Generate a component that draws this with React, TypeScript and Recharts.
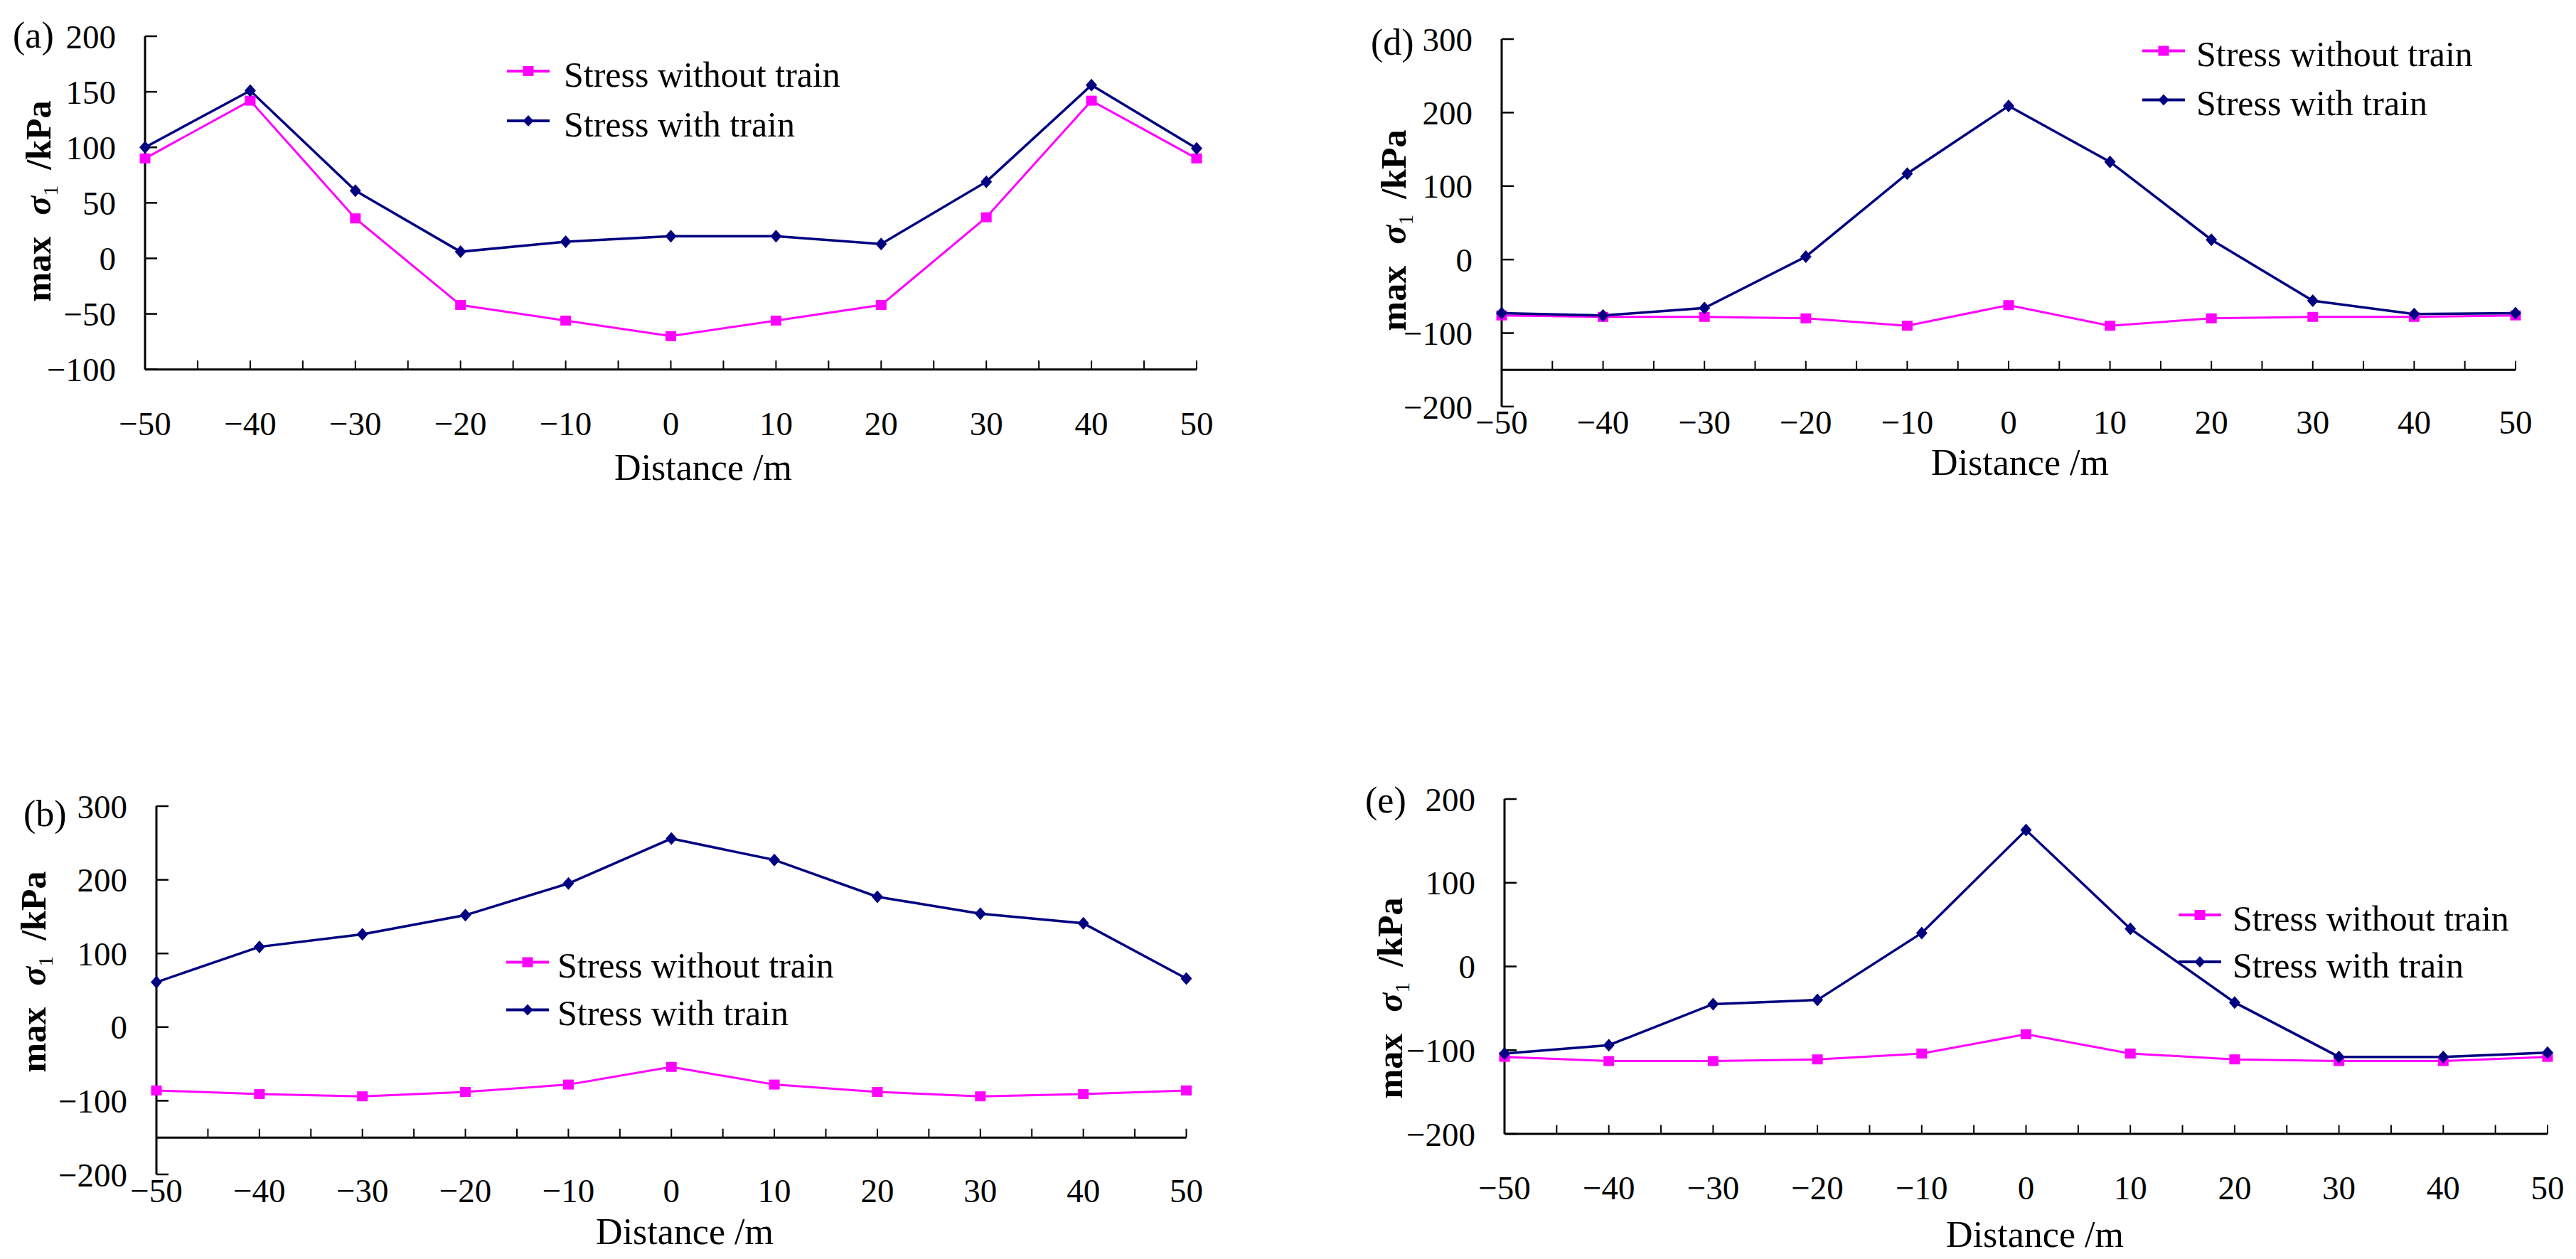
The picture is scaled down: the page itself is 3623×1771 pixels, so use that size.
import React from 'react';
import { LineChart, Line, XAxis, YAxis, Legend, ReferenceLine } from 'recharts';

// ---------- data ----------
const distances = [-50, -40, -30, -20, -10, 0, 10, 20, 30, 40, 50];
const xTicks = [-50, -45, -40, -35, -30, -25, -20, -15, -10, -5, 0, 5, 10, 15, 20, 25, 30, 35, 40, 45, 50];

const aWithout = [90, 142, 36, -42, -56, -70, -56, -42, 37, 142, 90];
const aWith = [100, 151, 61, 6, 15, 20, 20, 13, 69, 156, 99];

const bWithout = [-86, -91, -94, -88, -78, -54, -78, -88, -94, -91, -86];
const bWith = [61, 109, 126, 152, 195, 256, 227, 177, 154, 141, 66];

const dWithout = [-76, -78, -78, -80, -90, -62, -90, -80, -78, -78, -76];
const dWith = [-73, -76, -66, 4, 117, 209, 133, 27, -56, -74, -73];

const eWithout = [-108, -113, -113, -111, -104, -81, -104, -111, -113, -113, -108];
const eWith = [-104, -94, -45, -40, 40, 163, 45, -43, -108, -108, -103];

const yTicksA = [-100, -50, 0, 50, 100, 150, 200];
const yTicksBD = [-200, -100, 0, 100, 200, 300];
const yTicksE = [-200, -100, 0, 100, 200];

const nameWithout = 'Stress without train';
const nameWith = 'Stress with train';
const seriesOrder = ['without', 'with'];

const MAGENTA = '#FF00FF';
const NAVY = '#000080';
const FONT = '"Liberation Serif", "Times New Roman", serif';

const buildRows = (without: number[], withT: number[]) =>
  distances.map((x, i) => ({ x, without: without[i], with: withT[i] }));

const fmt = (v: number) => (v < 0 ? '\u2212' + Math.abs(v) : String(v));

// ---------- markers ----------
const SquareDot = (props: any) => {
  const { cx, cy, index } = props;
  if (cx == null || cy == null) return null;
  return <rect key={'sq' + index} x={cx - 7.5} y={cy - 7} width={15} height={14} fill={MAGENTA} />;
};
const DiamondDot = (props: any) => {
  const { cx, cy, index } = props;
  if (cx == null || cy == null) return null;
  return (
    <polygon
      key={'dm' + index}
      points={`${cx},${cy - 9} ${cx + 8},${cy} ${cx},${cy + 9} ${cx - 8},${cy}`}
      fill={NAVY}
    />
  );
};

// ---------- panel config ----------
type Panel = {
  id: string;
  rows: { x: number; without: number; with: number }[];
  x0: number; x1: number; y0: number; y1: number;
  domain: [number, number];
  yTicks: number[];
  cross: number;
  labelCenter: number;
  legend: { lineX: number; row1: number; gap: number; textGap: number };
};

const panels: Panel[] = [
  {
    id: 'a', rows: buildRows(aWithout, aWith),
    x0: 204, x1: 1683, y0: 51.3, y1: 520, domain: [-100, 200], yTicks: yTicksA, cross: -100,
    labelCenter: 596, legend: { lineX: 713, row1: 100, gap: 70, textGap: 20 },
  },
  {
    id: 'd', rows: buildRows(dWithout, dWith),
    x0: 2112, x1: 3538, y0: 54.5, y1: 571.4, domain: [-200, 300], yTicks: yTicksBD, cross: -150,
    labelCenter: 594, legend: { lineX: 3013, row1: 71, gap: 69, textGap: 16 },
  },
  {
    id: 'b', rows: buildRows(bWithout, bWith),
    x0: 220, x1: 1668.5, y0: 1134, y1: 1652, domain: [-200, 300], yTicks: yTicksBD, cross: -150,
    labelCenter: 1675, legend: { lineX: 712, row1: 1353, gap: 67, textGap: 12 },
  },
  {
    id: 'e', rows: buildRows(eWithout, eWith),
    x0: 2116, x1: 3583, y0: 1124, y1: 1595, domain: [-200, 200], yTicks: yTicksE, cross: -200,
    labelCenter: 1671, legend: { lineX: 3064, row1: 1287, gap: 66, textGap: 16 },
  },
];

const Y_AXIS_W = 200;
const M_TOP = 30;
const M_RIGHT = 60;
const X_AXIS_H = 150;
const TICK_FS = 47;

const LegendBox = (props: any) => {
  const { payload, gap, textGap } = props;
  const items = (payload || [])
    .filter((p: any) => p.type !== 'none')
    .slice()
    .sort((a: any, b: any) => seriesOrder.indexOf(a.dataKey) - seriesOrder.indexOf(b.dataKey));
  return (
    <div style={{ fontFamily: FONT }}>
      {items.map((p: any, i: number) => {
        const isWith = p.dataKey === 'with';
        const c = gap / 2;
        return (
          <div key={i} style={{ display: 'flex', alignItems: 'center', height: gap }}>
            <svg width={60} height={gap} style={{ display: 'block' }}>
              <line x1={0} y1={c} x2={60} y2={c} stroke={p.color} strokeWidth={4} />
              {isWith ? (
                <polygon points={`30,${c - 8} 37.5,${c} 30,${c + 8} 22.5,${c}`} fill={p.color} />
              ) : (
                <rect x={22.5} y={c - 7} width={15} height={14} fill={p.color} />
              )}
            </svg>
            <span
              style={{
                marginLeft: textGap,
                fontSize: 50,
                lineHeight: 1,
                whiteSpace: 'nowrap',
                position: 'relative',
                top: 5,
                color: '#000',
              }}
            >
              {p.value}
            </span>
          </div>
        );
      })}
    </div>
  );
};

const PanelChart = ({ p }: { p: Panel }) => {
  const left = p.x0 - Y_AXIS_W;
  const top = p.y0 - M_TOP;
  const width = p.x1 - p.x0 + Y_AXIS_W + M_RIGHT;
  const height = p.y1 - p.y0 + M_TOP + X_AXIS_H;
  const pxPerUnit = (p.y1 - p.y0) / (p.domain[1] - p.domain[0]);
  const tickLenUnits = 12.5 / pxPerUnit;
  const xTickMargin = p.labelCenter - p.y1 - 0.372 * TICK_FS;
  return (
    <div style={{ position: 'absolute', left, top, width, height }}>
      <LineChart
        width={width}
        height={height}
        data={p.rows}
        margin={{ top: M_TOP, right: M_RIGHT, bottom: 0, left: 0 }}
      >
        <XAxis
          dataKey="x"
          type="number"
          domain={[-50, 50]}
          ticks={xTicks}
          interval={0}
          height={X_AXIS_H}
          axisLine={false}
          tickLine={false}
          tickSize={0}
          tickMargin={xTickMargin}
          tickFormatter={(v: number) => (v % 10 === 0 ? fmt(v) : '')}
          tick={{ fontSize: TICK_FS, fill: '#000', fontFamily: FONT }}
        />
        <YAxis
          type="number"
          domain={p.domain}
          ticks={p.yTicks}
          interval={0}
          width={Y_AXIS_W}
          axisLine={{ stroke: '#000', strokeWidth: 3 }}
          tickLine={{ stroke: '#000', strokeWidth: 2.5 }}
          tickSize={-17}
          tickMargin={58}
          tickFormatter={fmt}
          tick={{ fontSize: TICK_FS, fill: '#000', fontFamily: FONT }}
        />
        <ReferenceLine y={p.cross} stroke="#000" strokeWidth={3} />
        {xTicks.map((t) => (
          <ReferenceLine
            key={'t' + t}
            segment={[
              { x: t, y: p.cross },
              { x: t, y: p.cross + tickLenUnits },
            ]}
            stroke="#000"
            strokeWidth={2}
          />
        ))}
        <Line
          type="linear"
          dataKey="without"
          name={nameWithout}
          stroke={MAGENTA}
          strokeWidth={3}
          dot={SquareDot}
          activeDot={false}
          isAnimationActive={false}
        />
        <Line
          type="linear"
          dataKey="with"
          name={nameWith}
          stroke={NAVY}
          strokeWidth={3.5}
          dot={DiamondDot}
          activeDot={false}
          isAnimationActive={false}
        />
        <Legend
          layout="vertical"
          align="center"
          verticalAlign="middle"
          wrapperStyle={{
            left: p.legend.lineX - left,
            top: p.legend.row1 - p.legend.gap / 2 - top,
            width: 700,
            height: p.legend.gap * 2,
          }}
          content={(props: any) => (
            <LegendBox payload={props.payload} gap={p.legend.gap} textGap={p.legend.textGap} />
          )}
        />
      </LineChart>
    </div>
  );
};

const TextAt = ({ x, y, children, size = 52, center = false, style = {} }: any) => (
  <div
    style={{
      position: 'absolute',
      left: x,
      top: y,
      transform: center ? 'translate(-50%, -50%)' : 'translateY(-50%)',
      fontSize: size,
      lineHeight: 1,
      whiteSpace: 'nowrap',
      fontFamily: FONT,
      color: '#000',
      ...style,
    }}
  >
    {children}
  </div>
);

const YTitle = ({ x, y }: { x: number; y: number }) => (
  <div
    style={{
      position: 'absolute',
      left: x,
      top: y,
      transform: 'translate(-50%, -50%) rotate(-90deg)',
      fontSize: 50,
      lineHeight: 1,
      whiteSpace: 'nowrap',
      fontFamily: FONT,
      color: '#000',
    }}
  >
    <b>max</b>
    <span style={{ display: 'inline-block', width: 30 }} />
    <i style={{ fontWeight: 'bold' }}>σ</i>
    <span style={{ fontSize: 30, position: 'relative', top: 10 }}>1</span>
    <span style={{ display: 'inline-block', width: 22 }} />
    <b>/kPa</b>
  </div>
);

export default function App() {
  return (
    <div
      style={{
        position: 'absolute',
        left: 0,
        top: 0,
        width: 3623,
        height: 1771,
        background: '#fff',
        overflow: 'hidden',
        fontFamily: FONT,
      }}
    >
      {panels.map((p) => (
        <PanelChart key={p.id} p={p} />
      ))}

      <TextAt x={18} y={50}>(a)</TextAt>
      <TextAt x={1928} y={60}>(d)</TextAt>
      <TextAt x={33} y={1145}>(b)</TextAt>
      <TextAt x={1920} y={1126}>(e)</TextAt>

      <YTitle x={54} y={283} />
      <YTitle x={1960} y={324} />
      <YTitle x={47} y={1367} />
      <YTitle x={1955} y={1404} />

      <TextAt x={989} y={658} center>Distance /m</TextAt>
      <TextAt x={2841} y={651} center>Distance /m</TextAt>
      <TextAt x={963} y={1733} center>Distance /m</TextAt>
      <TextAt x={2862} y={1737} center>Distance /m</TextAt>
    </div>
  );
}
